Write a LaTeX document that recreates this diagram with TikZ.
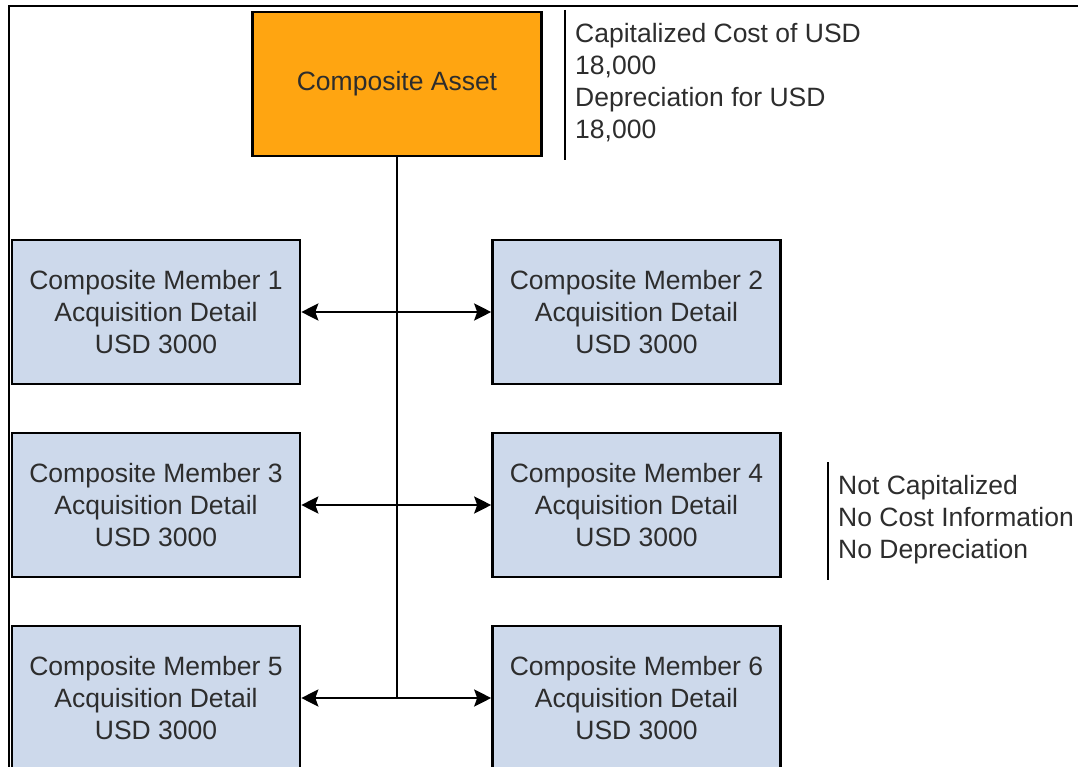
\documentclass[tikz,border=0pt]{standalone}
\usepackage{fontspec}
\setmainfont{Liberation Sans}
\usetikzlibrary{arrows.meta}
\definecolor{assetorange}{RGB}{255,165,17}
\definecolor{memberblue}{RGB}{205,217,235}
\definecolor{inkgray}{RGB}{45,45,45}
\tikzset{
  assetbox/.style={draw=black, fill=assetorange, line width=2.6pt, minimum width=289pt, minimum height=144pt, text=inkgray, font=\fontsize{26.5}{32}\selectfont},
  memberbox/.style={draw=black, fill=memberblue, line width=2.6pt, minimum width=288pt, minimum height=144pt, align=center, text=inkgray, font=\fontsize{26.5}{32}\selectfont},
  notetext/.style={anchor=west, inner sep=0pt, align=left, text=inkgray, font=\fontsize{26.5}{32}\selectfont},
  link/.style={line width=2.6pt},
  twoway/.style={line width=2.6pt, {Stealth[length=17pt,width=17pt,inset=3pt]}-{Stealth[length=17pt,width=17pt,inset=3pt]}}
}

\begin{document}
\begin{tikzpicture}[x=1pt,y=-1pt]
  \useasboundingbox (0,0) rectangle (1078,767);
  \clip (0,0) rectangle (1078,767);

  % Frame
  \draw[line width=2pt] (9,900) -- (9,6) -- (1090,6);

  % Composite asset
  \node[assetbox] (asset) at (397,84) {Composite Asset};

  % Members
  \node[memberbox] (m1) at (156,312) {Composite Member 1\\Acquisition Detail\\USD 3000};
  \node[memberbox] (m2) at (636.5,312) {Composite Member 2\\Acquisition Detail\\USD 3000};
  \node[memberbox] (m3) at (156,505) {Composite Member 3\\Acquisition Detail\\USD 3000};
  \node[memberbox] (m4) at (636.5,505) {Composite Member 4\\Acquisition Detail\\USD 3000};
  \node[memberbox] (m5) at (156,698) {Composite Member 5\\Acquisition Detail\\USD 3000};
  \node[memberbox] (m6) at (636.5,698) {Composite Member 6\\Acquisition Detail\\USD 3000};

  % Trunk and arrows
  \coordinate (trunkend) at (asset.south |- m5.east);
  \draw[link] (asset.south) -- (trunkend);
  \draw[twoway] (m1.east) -- (m2.west);
  \draw[twoway] (m3.east) -- (m4.west);
  \draw[twoway] (m5.east) -- (m6.west);

  % Notes
  \coordinate (capTop) at (565,10);
  \coordinate (capBot) at (565,160);
  \draw[link] (capTop) -- (capBot);
  \node[notetext] (capnote) at (575,83) {Capitalized Cost of USD\\18,000\\Depreciation for USD\\18,000};

  \coordinate (noteTop) at (828,462);
  \coordinate (noteBot) at (828,580);
  \draw[link] (noteTop) -- (noteBot);
  \node[notetext] (memnote) at (838,520) {Not Capitalized\\No Cost Information\\No Depreciation};
\end{tikzpicture}
\end{document}
